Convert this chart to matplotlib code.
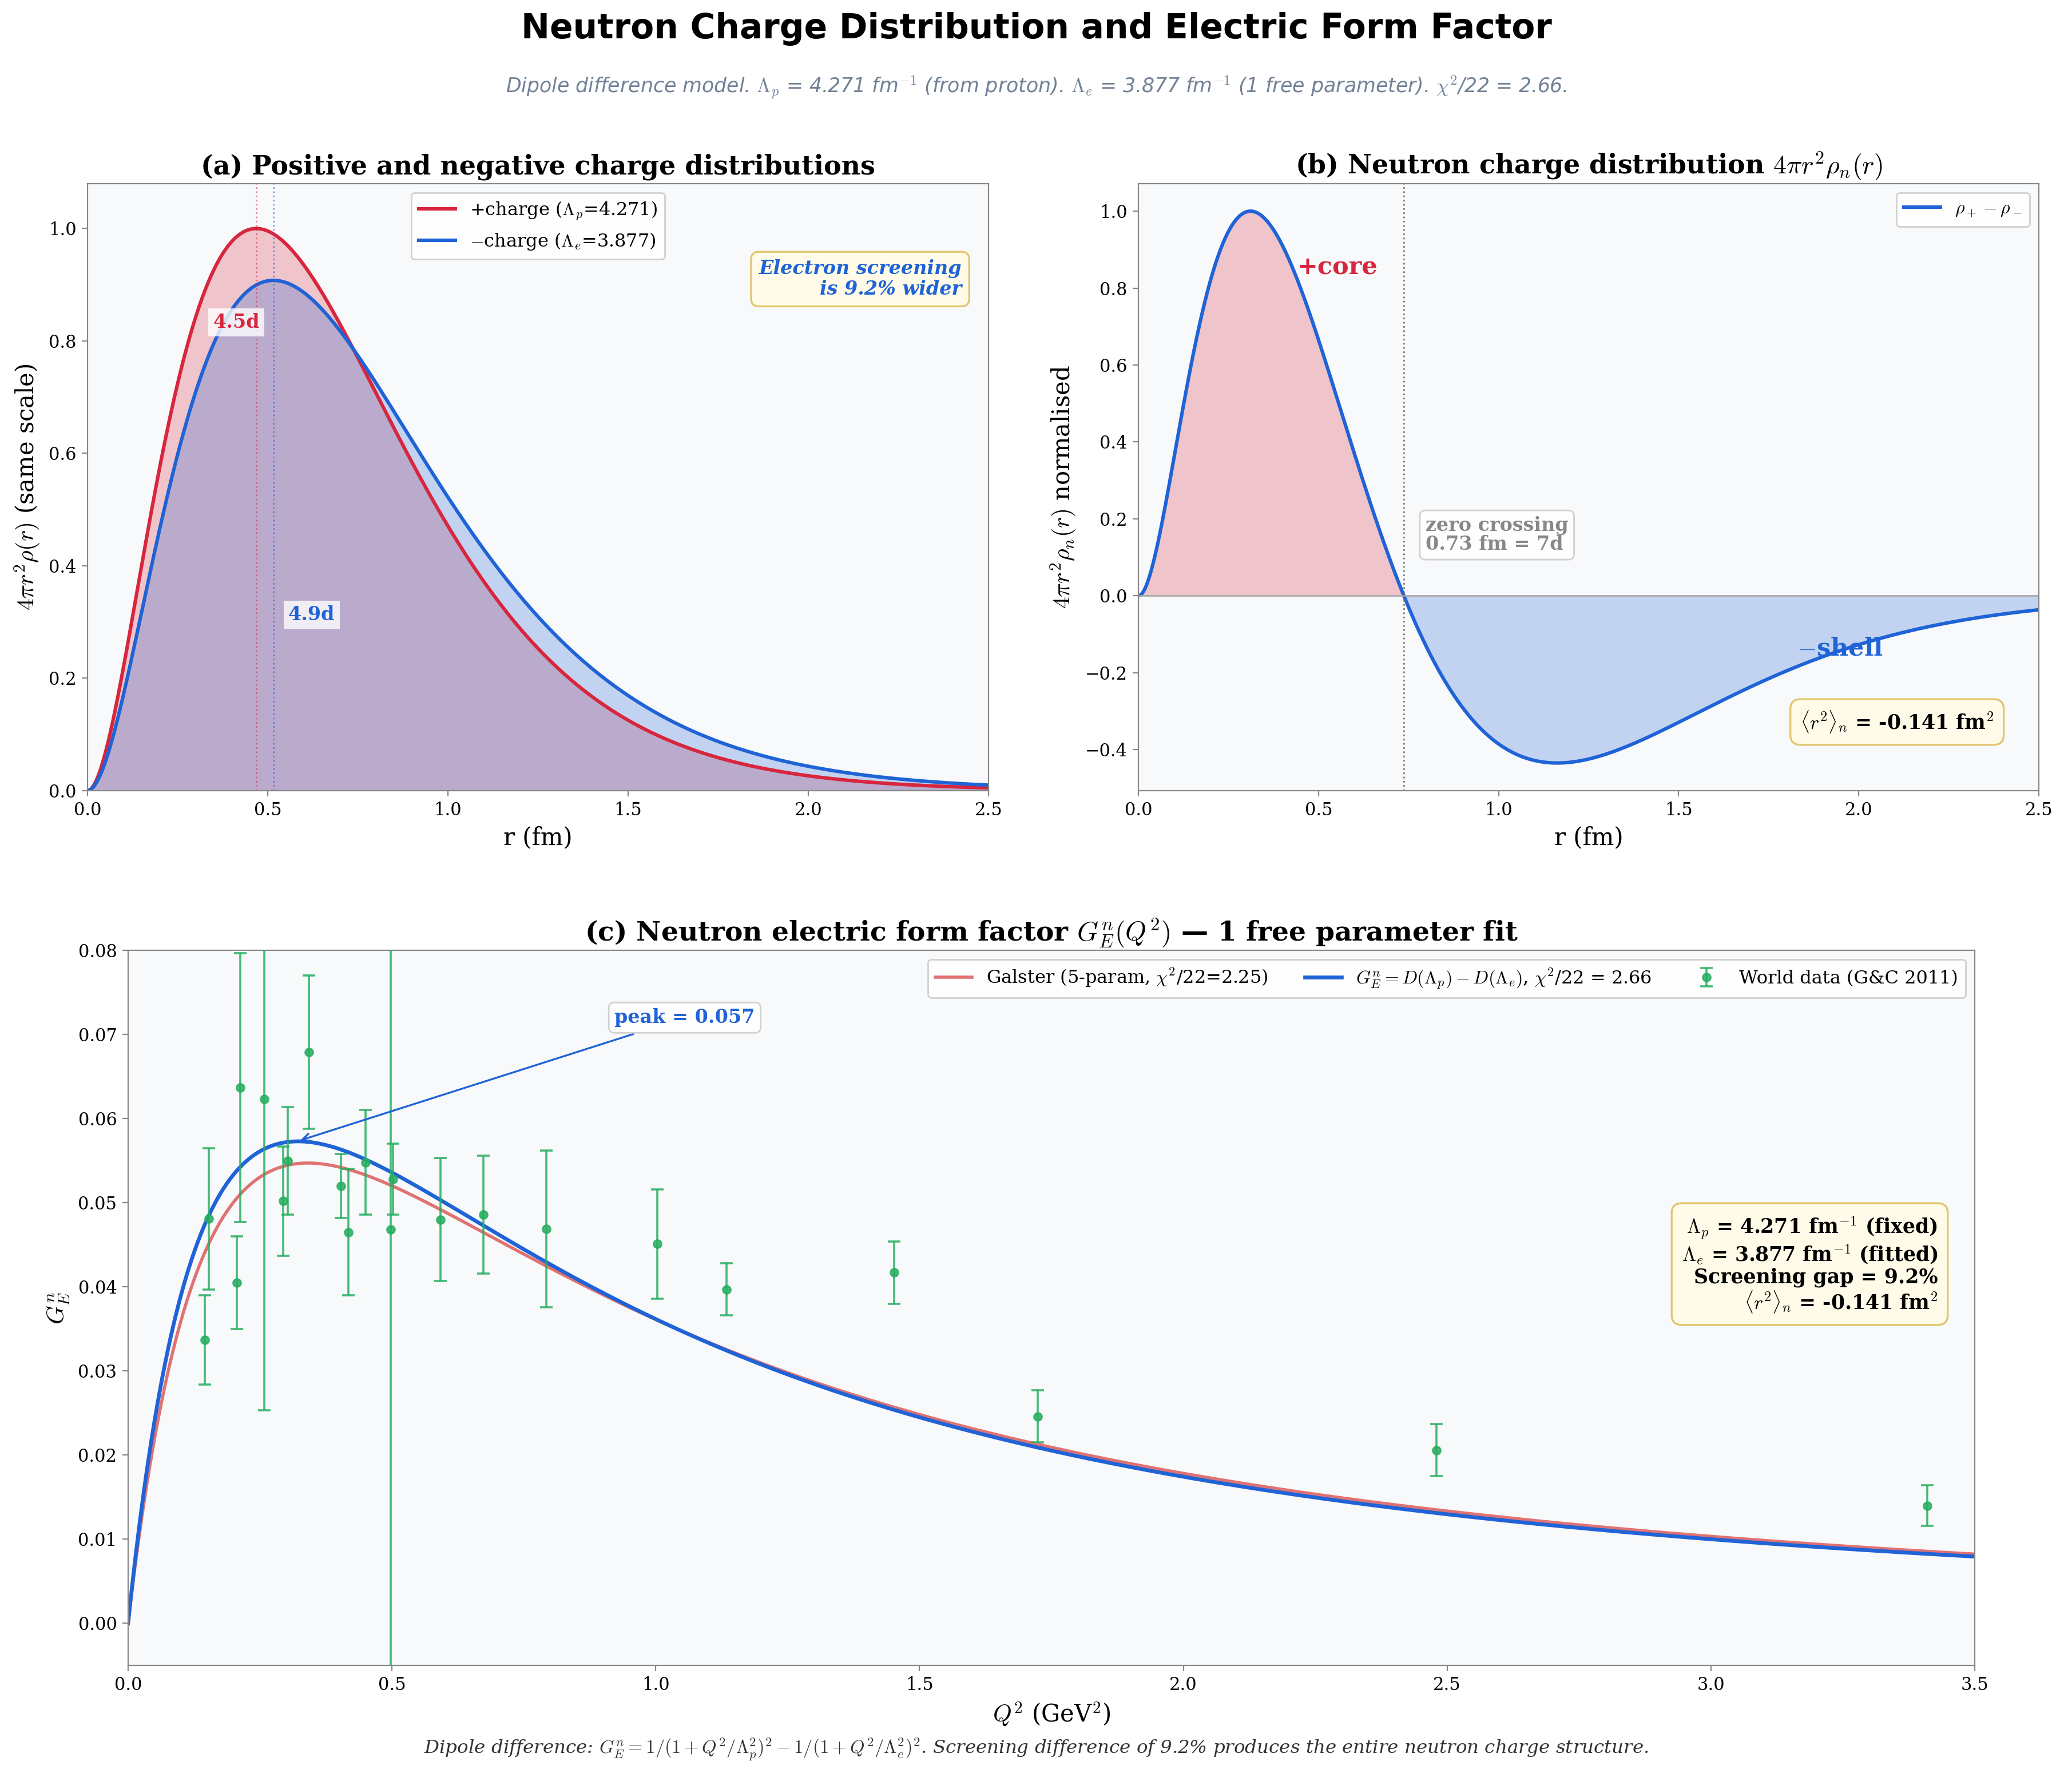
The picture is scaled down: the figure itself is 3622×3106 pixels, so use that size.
import numpy as np
import matplotlib
matplotlib.use("Agg")
import matplotlib.pyplot as plt

plt.rcParams['font.family'] = 'DejaVu Serif'
plt.rcParams['mathtext.fontset'] = 'cm'

# ---------------- data / model parameters ----------------
LAMBDA_P = 4.271          # fm^-1 (from proton)
LAMBDA_E = 3.877          # fm^-1 (fitted)
HBARC = 0.19733           # GeV fm
GALSTER_A = 1.0
GALSTER_B = 5.6
MU_N = -1.913
M_N = 0.9396              # GeV

# world data (G&C 2011)
q2_data = [0.145, 0.153, 0.206, 0.213, 0.258, 0.294, 0.303, 0.343, 0.403, 0.418,
           0.450, 0.498, 0.502, 0.592, 0.673, 0.793, 1.003, 1.134, 1.452, 1.724,
           2.480, 3.410]
gen_data = [0.0337, 0.0481, 0.0405, 0.0637, 0.0623, 0.0502, 0.0550, 0.0679, 0.0520, 0.0465,
            0.0548, 0.0468, 0.0528, 0.0480, 0.0486, 0.0469, 0.0451, 0.0397, 0.0417, 0.0246,
            0.0206, 0.0140]
gen_err = [0.0053, 0.0084, 0.0055, 0.0160, 0.0370, 0.0065, 0.0064, 0.0091, 0.0038, 0.0075,
           0.0062, 0.0650, 0.0042, 0.0073, 0.0070, 0.0093, 0.0065, 0.0031, 0.0037, 0.0031,
           0.0031, 0.0024]

RED = '#d7263d'
BLUE = '#1f63d6'
GAL = '#e07272'
GREEN = '#27ae60'
BG = '#f8f9fb'
BOXFC = '#fffbe8'
BOXEC = '#e2c56f'

# ---------------- figure ----------------
fig = plt.figure(figsize=(3623 / 200, 3106 / 200), dpi=200)

fig.text(0.5, 0.9836, 'Neutron Charge Distribution and Electric Form Factor',
         ha='center', va='center', fontsize=21.5, fontweight='bold', family='DejaVu Sans')
fig.text(0.5, 0.951,
         r'Dipole difference model. $\Lambda_p$ = 4.271 fm$^{-1}$ (from proton). '
         r'$\Lambda_e$ = 3.877 fm$^{-1}$ (1 free parameter). $\chi^2$/22 = 2.66.',
         ha='center', va='center', fontsize=12.5, style='italic', color='#728196',
         family='DejaVu Sans')

axa = fig.add_axes([0.0422, 0.5551, 0.4348, 0.3416])
axb = fig.add_axes([0.5493, 0.5551, 0.4344, 0.3416])
axc = fig.add_axes([0.0618, 0.0628, 0.8910, 0.4024])

for ax in (axa, axb, axc):
    ax.set_facecolor(BG)
    for s in ax.spines.values():
        s.set_color('#888888')
    ax.tick_params(labelsize=11, color='#888888')

# ---------------- panel (a) ----------------
r = np.linspace(0, 2.5, 800)
def shell(lam):
    return lam ** 3 * r ** 2 * np.exp(-lam * r) / 2.0
rp = shell(LAMBDA_P)
re_ = shell(LAMBDA_E)
norm = rp.max()
rp_n = rp / norm
re_n = re_ / norm

axa.fill_between(r, 0, rp_n, color=RED, alpha=0.25, lw=0)
axa.fill_between(r, 0, re_n, color=BLUE, alpha=0.25, lw=0)
axa.plot(r, rp_n, color=RED, lw=2.2, label=r'+charge ($\Lambda_p$=4.271)')
axa.plot(r, re_n, color=BLUE, lw=2.2, label=r'$-$charge ($\Lambda_e$=3.877)')
axa.axvline(2 / LAMBDA_P, color=RED, ls=':', lw=1, alpha=0.6)
axa.axvline(2 / LAMBDA_E, color=BLUE, ls=':', lw=1, alpha=0.6)
axa.text(0.413, 0.833, '4.5d', color=RED, fontsize=12, fontweight='bold', ha='center', va='center',
         bbox=dict(boxstyle='square,pad=0.25', fc='white', ec='none', alpha=0.8))
axa.text(0.622, 0.313, '4.9d', color=BLUE, fontsize=12, fontweight='bold', ha='center', va='center',
         bbox=dict(boxstyle='square,pad=0.25', fc='white', ec='none', alpha=0.8))
axa.text(0.97, 0.875, 'Electron screening\nis 9.2% wider', transform=axa.transAxes,
         ha='right', va='top', fontsize=12, fontweight='bold', style='italic', color=BLUE,
         linespacing=1.1,
         bbox=dict(boxstyle='round,pad=0.4', fc=BOXFC, ec=BOXEC, lw=1.2))
axa.set_xlim(0, 2.5)
axa.set_ylim(0, 1.08)
axa.set_xlabel('r (fm)', fontsize=15)
axa.set_ylabel(r'$4\pi r^2\rho(r)$ (same scale)', fontsize=15)
axa.set_title('(a) Positive and negative charge distributions', fontsize=16.5, fontweight='bold')
axa.legend(loc='upper center', fontsize=11.5, framealpha=0.9)

# ---------------- panel (b) ----------------
diff = rp - re_
diff_n = diff / diff.max()
axb.fill_between(r, 0, diff_n, where=diff_n >= 0, color=RED, alpha=0.25, lw=0, interpolate=True)
axb.fill_between(r, 0, diff_n, where=diff_n <= 0, color=BLUE, alpha=0.25, lw=0, interpolate=True)
axb.plot(r, diff_n, color=BLUE, lw=2.2, label=r'$\rho_+ - \rho_-$')
axb.axhline(0, color='#aaaaaa', lw=1)
r0 = 3 * np.log(LAMBDA_P / LAMBDA_E) / (LAMBDA_P - LAMBDA_E)
axb.axvline(r0, color='#777777', ls=':', lw=1)
axb.text(0.44, 0.855, '+core', color=RED, fontsize=15.5, fontweight='bold', ha='left', va='center')
axb.text(1.83, -0.137, r'$-$shell', color=BLUE, fontsize=15.5, fontweight='bold', ha='left', va='center')
axb.text(r0 + 0.06, 0.158, 'zero crossing\n0.73 fm = 7d', color='#888888', fontsize=12,
         fontweight='bold', ha='left', va='center', linespacing=1.0,
         bbox=dict(boxstyle='round,pad=0.3', fc='white', ec='#cccccc', alpha=0.9))
axb.text(0.95, 0.113, r'$\langle r^2\rangle_n$ = -0.141 fm$^2$', transform=axb.transAxes,
         ha='right', va='center', fontsize=12.5, fontweight='bold',
         bbox=dict(boxstyle='round,pad=0.5', fc=BOXFC, ec=BOXEC, lw=1.2))
axb.set_xlim(0, 2.5)
axb.set_xlabel('r (fm)', fontsize=15)
axb.set_ylabel(r'$4\pi r^2\rho_n(r)$ normalised', fontsize=15)
axb.set_title(r'(b) Neutron charge distribution $4\pi r^2\rho_n(r)$', fontsize=16.5, fontweight='bold')
axb.legend(loc='upper right', fontsize=11.5, framealpha=0.9)

# ---------------- panel (c) ----------------
Q2 = np.linspace(0, 3.5, 700)
Lp2 = (LAMBDA_P * HBARC) ** 2
Le2 = (LAMBDA_E * HBARC) ** 2
G_model = 1 / (1 + Q2 / Lp2) ** 2 - 1 / (1 + Q2 / Le2) ** 2
tau = Q2 / (4 * M_N ** 2)
G_gal = -GALSTER_A * MU_N * tau / (1 + GALSTER_B * tau) / (1 + Q2 / 0.71) ** 2

axc.plot(Q2, G_gal, color=GAL, lw=2, label=r'Galster (5-param, $\chi^2$/22=2.25)')
axc.plot(Q2, G_model, color=BLUE, lw=2.4,
         label=r'$G_E^n = D(\Lambda_p) - D(\Lambda_e)$, $\chi^2$/22 = 2.66')
axc.errorbar(q2_data, gen_data, yerr=gen_err, fmt='o', color=GREEN, ms=5, capsize=4,
             elinewidth=1.3, capthick=1.3, alpha=0.85, label='World data (G&C 2011)', zorder=3)
ip = int(np.argmax(G_model))
axc.annotate(f'peak = {G_model[ip]:.3f}', xy=(Q2[ip], G_model[ip]), xytext=(1.055, 0.072),
             ha='center', va='center', fontsize=12, fontweight='bold', color=BLUE,
             bbox=dict(boxstyle='round,pad=0.3', fc='white', ec='#cccccc', alpha=0.9),
             arrowprops=dict(arrowstyle='->', color=BLUE, lw=1.2))
axc.text(0.98, 0.56,
         r'$\Lambda_p$ = 4.271 fm$^{-1}$ (fixed)' '\n'
         r'$\Lambda_e$ = 3.877 fm$^{-1}$ (fitted)' '\n'
         'Screening gap = 9.2%\n'
         r'$\langle r^2\rangle_n$ = -0.141 fm$^2$',
         transform=axc.transAxes, ha='right', va='center', fontsize=12.5, fontweight='bold',
         linespacing=1.1,
         bbox=dict(boxstyle='round,pad=0.5', fc=BOXFC, ec=BOXEC, lw=1.2))
axc.set_xlim(0, 3.5)
axc.set_ylim(-0.005, 0.08)
axc.set_xlabel(r'$Q^2$ (GeV$^2$)', fontsize=15)
axc.set_ylabel(r'$G_E^n$', fontsize=15)
axc.set_title(r'(c) Neutron electric form factor $G_E^n(Q^2)$ — 1 free parameter fit',
              fontsize=17, fontweight='bold')
axc.legend(loc='upper right', ncol=3, fontsize=11.5, framealpha=0.9)

fig.text(0.5, 0.0158,
         r'Dipole difference: $G_E^n = 1/(1+Q^2/\Lambda_p^2)^2 - 1/(1+Q^2/\Lambda_e^2)^2$. '
         'Screening difference of 9.2% produces the entire neutron charge structure.',
         ha='center', va='center', fontsize=11.7, style='italic', color='#333333')

fig.savefig('out.png', dpi=200)
